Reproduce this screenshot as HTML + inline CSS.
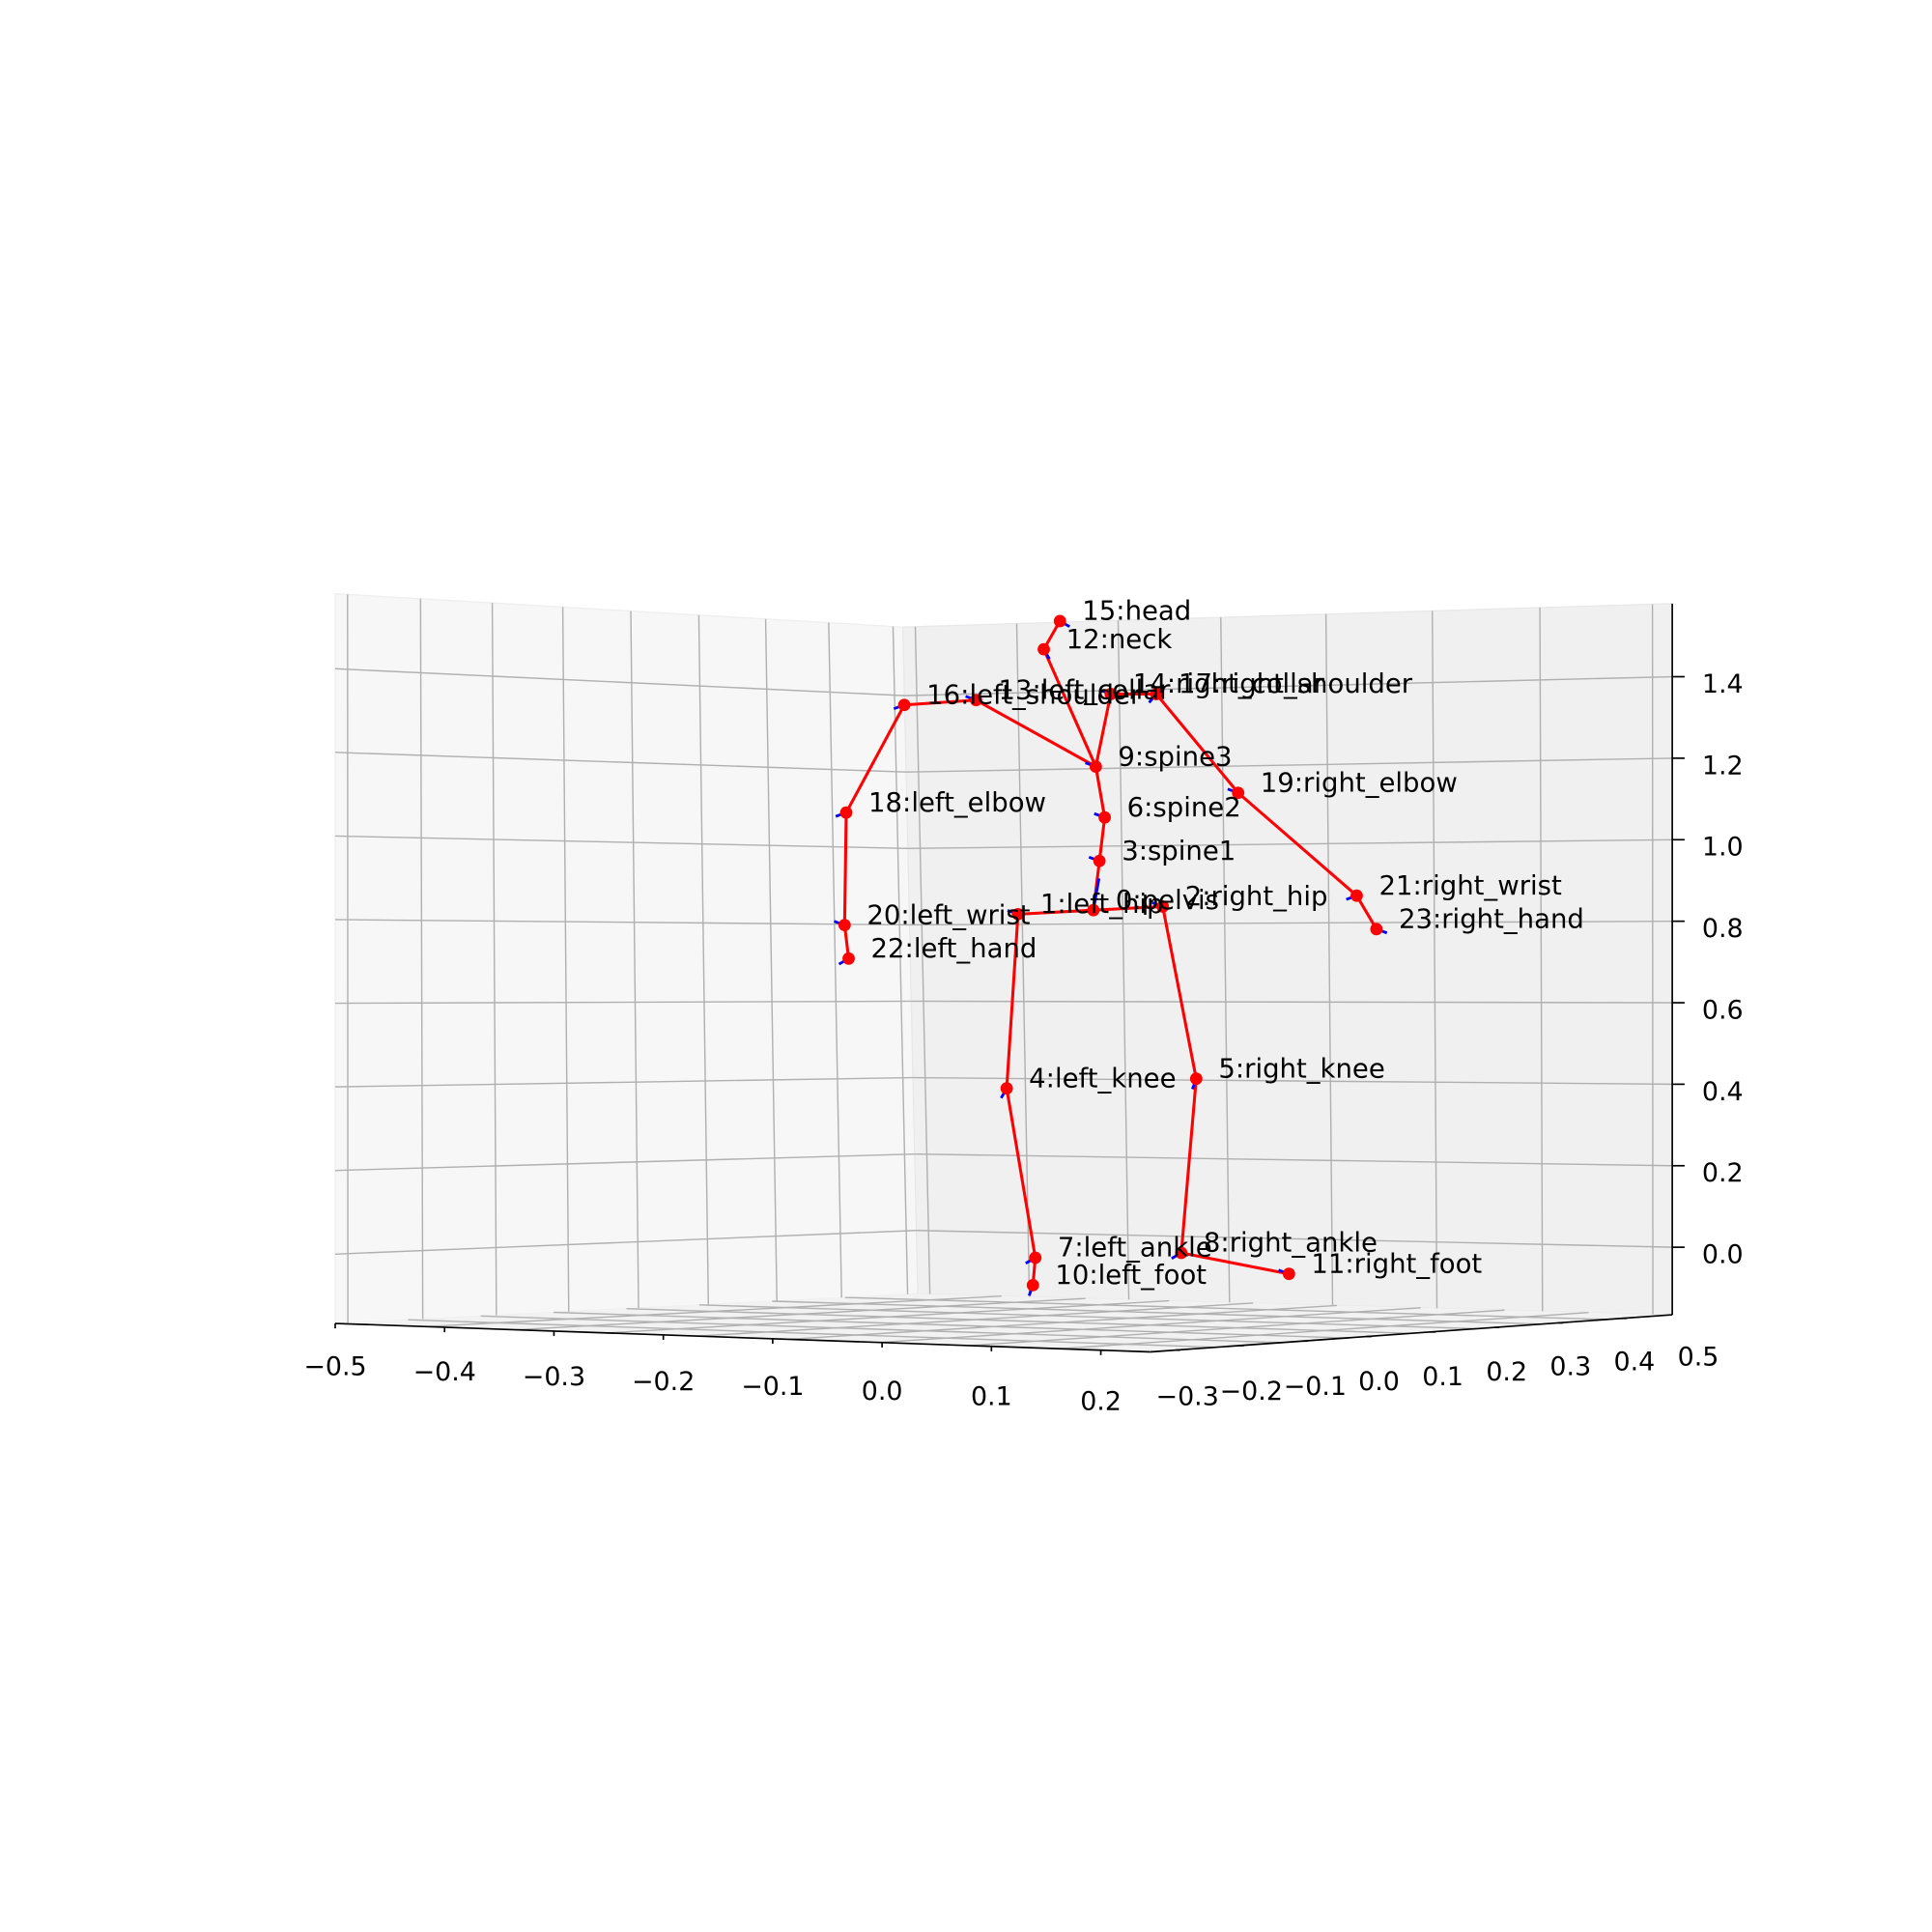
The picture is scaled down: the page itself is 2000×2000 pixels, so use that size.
<!DOCTYPE html>
<html><head><meta charset="utf-8"><style>html,body{margin:0;padding:0;background:#fff}svg{display:block}text{font-family:"DejaVu Sans","Liberation Sans",sans-serif}</style></head>
<body>
<svg id="chart" xmlns="http://www.w3.org/2000/svg" width="2000" height="2000" viewBox="0 0 1562 1562">
<g id="panes"></g>
<g id="grid"></g>
<g id="axes"></g>
<g id="bones"></g>
<g id="arrows"></g>
<g id="joints"></g>
<g id="labels"></g>
</svg>
<script>
const jointNames=["0:pelvis","1:left_hip","2:right_hip","3:spine1","4:left_knee","5:right_knee","6:spine2","7:left_ankle","8:right_ankle","9:spine3","10:left_foot","11:right_foot","12:neck","13:left_collar","14:right_collar","15:head","16:left_shoulder","17:right_shoulder","18:left_elbow","19:right_elbow","20:left_wrist","21:right_wrist","22:left_hand","23:right_hand"];
const jointU=[0,-0.187,0.172,0.015,-0.215,0.255,0.028,-0.144,0.218,0.006,-0.150,0.485,-0.123,-0.291,0.043,-0.083,-0.469,0.156,-0.613,0.359,-0.617,0.653,-0.607,0.702];
const jointZ=[0.844,0.834,0.853,0.966,0.402,0.426,1.074,-0.018,-0.006,1.200,-0.086,-0.058,1.491,1.365,1.380,1.561,1.353,1.380,1.086,1.135,0.807,0.880,0.724,0.797];
const boneFrom=[0,0,0,1,2,3,4,5,6,7,8,9,9,9,12,13,14,16,17,18,19,20,21];
const boneTo=[1,2,3,4,5,6,7,8,9,10,11,12,13,14,15,16,17,18,19,20,21,22,23];
const arrowAngle=[-80,200,200,200,120,110,200,150,150,200,110,200,60,200,200,30,160,130,160,200,200,160,150,20];
const xTicks=["\u22120.5","\u22120.4","\u22120.3","\u22120.2","\u22120.1","0.0","0.1","0.2"];
const yTicks=["\u22120.3","\u22120.2","\u22120.1","0.0","0.1","0.2","0.3","0.4","0.5"];
const zTicks=[0.0,0.2,0.4,0.6,0.8,1.0,1.2,1.4];
const NS="http://www.w3.org/2000/svg";
function mk(p,t,a){const e=document.createElementNS(NS,t);for(const k in a)e.setAttribute(k,a[k]);document.getElementById(p).appendChild(e);return e;}
function sx(u){return 884+u*326;}
function sy(z){return 1011-z*326;}
function frac(z){return 0.905-0.573*z;}
const L={t:[271,480],b:[271,1070]},C={t:[730,507],b:[742,1046]},R={t:[1352,488],b:[1352,1063]};
let e=mk('panes','polygon',{points:"271,480 730,507 742,1046 271,1070",fill:"#f7f7f7",stroke:"#eeeeee"});

e=mk('panes','polygon',{points:"730,507 1352,488 1352,1063 742,1046",fill:"#f0f0f0",stroke:"#e8e8e8"});

e=mk('panes','polygon',{points:"271,1070 742,1046 1352,1063 930,1093",fill:"#f2f2f2"});

function lerp(a,b,t){return [a[0]+(b[0]-a[0])*t,a[1]+(b[1]-a[1])*t];}
function gl(p,q){const l=mk('grid','line',{x1:p[0],y1:p[1],x2:q[0],y2:q[1],stroke:"#b0b0b0","stroke-width":1.1});}
zTicks.forEach(z=>{const f=frac(z);gl(lerp(L.t,L.b,f),lerp(C.t,C.b,f));gl(lerp(C.t,C.b,f),lerp(R.t,R.b,f));});
[281,340,398,455,510,565,619,670,722].forEach(x=>{const t=(x-271)/(730-271);gl(lerp(L.t,C.t,t),lerp(L.b,C.b,t));});
[740,822,904,987,1072,1158,1245,1336].forEach(x=>{const t=(x-730)/(1352-730);gl(lerp(C.t,R.t,t),lerp(C.b,R.b,t));});
const A=[271,1070],B=[930,1093],Cc=[1352,1063],D=[742,1046];
for(let i=1;i<9;i++){const t=i/9;gl(lerp(A,B,t),lerp(D,Cc,t));}
for(let i=1;i<8;i++){const t=i/8;gl(lerp(A,D,t),lerp(B,Cc,t));}
function al(p,q,n){const l=mk('axes','line',{x1:p[0],y1:p[1],x2:q[0],y2:q[1],stroke:"#000","stroke-width":1.3});}
al(A,B,'x-axis-line');al(B,Cc,'y-axis-line');al([1352,488],[1352,1063],'z-axis-line');
function tx(x,y,s,n,anchor){const t=mk('axes','text',{x:x,y:y,"font-size":21,"text-anchor":anchor||"middle","dominant-baseline":"middle",fill:"#000"});t.textContent=s;}
xTicks.forEach((s,i)=>{const t=i/(xTicks.length-1);const x=271+t*(890-271),y=1106+t*28;tx(x,y,s,'x-tick-label');const p=lerp(A,B,(x-271)/(930-271));al(p,[p[0],p[1]+4],'x-tick');});
yTicks.forEach((s,i)=>{const t=i/(yTicks.length-1);const x=960+t*(1373-960),y=1130-t*32;tx(x,y,s,'y-tick-label');const f=Math.min(1,(x-10-930)/(1352-930));if(f<0.97){const p=lerp(B,Cc,f);al(p,[p[0]+4,p[1]],'y-tick');}});
zTicks.forEach(z=>{const p=lerp(R.t,R.b,frac(z));al(p,[p[0]+10,p[1]],'z-tick');tx(1376,p[1]+7,z.toFixed(1),'z-tick-label','start');});
boneFrom.forEach((a,i)=>{const b=boneTo[i];const l=mk('bones','line',{x1:sx(jointU[a]),y1:sy(jointZ[a]),x2:sx(jointU[b]),y2:sy(jointZ[b]),stroke:"#ff0000","stroke-width":2.4});});
jointNames.forEach((n,i)=>{const x=sx(jointU[i]),y=sy(jointZ[i]);
const c=mk('joints','circle',{cx:x,cy:y,r:5,fill:"#ff0000"});
const an=arrowAngle[i]*Math.PI/180;const len=i===0?26:9;
const a=mk('arrows','line',{x1:x,y1:y,x2:x+len*Math.cos(an),y2:y+len*Math.sin(an),stroke:"#0000ff","stroke-width":2.2});
const t=mk('labels','text',{x:x+18,y:y-1,"font-size":21.5,fill:"#000"});t.textContent=n;});
</script>
</body></html>
